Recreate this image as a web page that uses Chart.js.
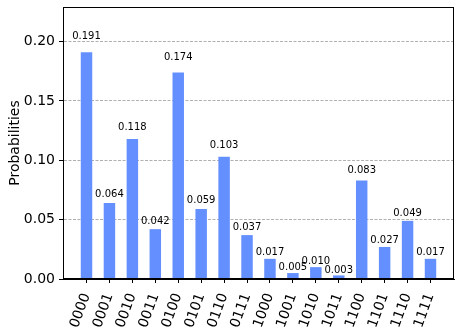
<!DOCTYPE html>
<html>
<head>
<meta charset="utf-8">
<script src="https://cdn.jsdelivr.net/npm/chart.js@4/dist/chart.umd.min.js"></script>
<style>
html,body{margin:0;padding:0;background:#fff;}
#wrap{width:461px;height:331px;position:relative;}
</style>
</head>
<body>
<div id="wrap"><canvas id="c" width="461" height="331"></canvas></div>
<script>
const categories = ['0000','0001','0010','0011','0100','0101','0110','0111','1000','1001','1010','1011','1100','1101','1110','1111'];
const probabilities = [0.191,0.064,0.118,0.042,0.174,0.059,0.103,0.037,0.017,0.005,0.010,0.003,0.083,0.027,0.049,0.017];
const yTickValues = [0,0.05,0.10,0.15,0.20];

const FONT = '"DejaVu Sans", sans-serif';
const yMax = Math.max(...probabilities) * 1.2;

const valueLabels = {
  id: 'valueLabels',
  afterDatasetsDraw(chart) {
    const ctx = chart.ctx;
    const xs = chart.scales.x, ys = chart.scales.y;
    ctx.save();
    ctx.font = '10px ' + FONT;
    ctx.fillStyle = '#000';
    ctx.textAlign = 'center';
    ctx.textBaseline = 'bottom';
    probabilities.forEach((v, i) => {
      ctx.fillText(v.toFixed(3), xs.getPixelForValue(i), ys.getPixelForValue(v * 1.05));
    });
    ctx.restore();
  }
};
const frame = {
  id: 'frame',
  afterDraw(chart) {
    const a = chart.chartArea, ctx = chart.ctx;
    ctx.save();
    ctx.strokeStyle = '#000';
    ctx.lineWidth = 1;
    ctx.strokeRect(Math.round(a.left) + 0.5, Math.round(a.top) + 0.5, Math.round(a.right - a.left) - 1, Math.round(a.bottom - a.top) - 1);
    ctx.restore();
  }
};

new Chart(document.getElementById('c'), {
  type: 'bar',
  data: {
    datasets: [{
      data: probabilities.map((v, i) => ({x: i, y: v})),
      backgroundColor: '#648fff',
      barPercentage: 0.5,
      categoryPercentage: 1.0
    }]
  },
  options: {
    responsive: false,
    animation: false,
    devicePixelRatio: 1,
    layout: {padding: {top: 7, right: 7, left: 0, bottom: 0}},
    plugins: {legend: {display: false}, tooltip: {enabled: false}},
    scales: {
      x: {
        type: 'linear',
        min: -1.025,
        max: 16.025,
        offset: false,
        afterBuildTicks: s => { s.ticks = categories.map((_, i) => ({value: i})); },
        afterFit: s => { s.height = 52; s.paddingLeft = 0; s.paddingRight = 0; },
        ticks: {
          autoSkip: false,
          minRotation: 70,
          maxRotation: 70,
          padding: 8,
          color: '#000',
          font: {family: FONT, size: 14},
          callback: v => categories[v]
        },
        grid: {display: true, offset: false, drawOnChartArea: false, drawTicks: true, tickLength: 4, tickColor: '#000', color: '#000'},
        border: {display: true, color: '#000'}
      },
      y: {
        min: 0,
        max: yMax,
        afterBuildTicks: s => { s.ticks = yTickValues.map(v => ({value: v})); },
        afterFit: s => { s.width = 63; s.paddingTop = 0; s.paddingBottom = 0; },
        ticks: {
          color: '#000',
          padding: 4,
          font: {family: FONT, size: 14},
          callback: v => v.toFixed(2)
        },
        title: {display: true, text: 'Probabilities', color: '#000', font: {family: FONT, size: 14}, padding: {top: 7, bottom: 0}},
        grid: {display: true, drawOnChartArea: true, drawTicks: true, tickLength: 4, tickColor: '#000',
               color: ctx => ctx.tick && ctx.tick.value === 0 ? 'rgba(0,0,0,0)' : '#b0b0b0', lineWidth: 1},
        border: {display: true, color: '#000', dash: [3, 1.5]}
      }
    }
  },
  plugins: [valueLabels, frame]
});
</script>
</body>
</html>
